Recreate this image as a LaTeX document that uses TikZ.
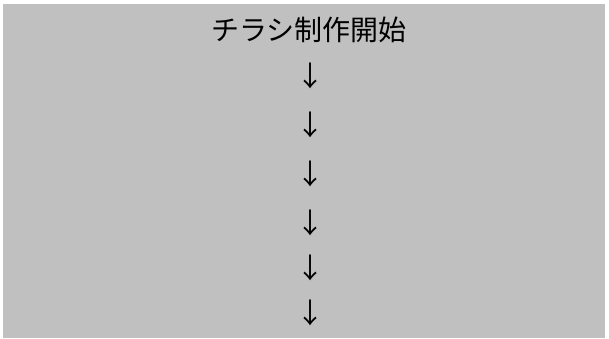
\documentclass[tikz,border=0pt]{standalone}
\usepackage{fontspec}
\newfontfamily\jpfont{Noto Sans CJK JP}
\definecolor{panelgray}{RGB}{192,192,192}

\begin{document}
\begin{tikzpicture}[x=1pt, y=-1pt, every node/.style={inner sep=0pt, font=\jpfont\fontsize{28}{32}\selectfont}]
            \useasboundingbox (0,0) rectangle (609,338);
            \fill[panelgray] (3,4) rectangle (605,338);
            % title line
            \node (title) at (309,30) {チラシ制作開始};
            % arrows down the page
            \foreach \y [count=\i] in {75.5,124.5,173.5,222.5,267.5,312.5} {
                \node (down\i) at (310,\y) {↓};
            }
        \end{tikzpicture}
\end{document}
